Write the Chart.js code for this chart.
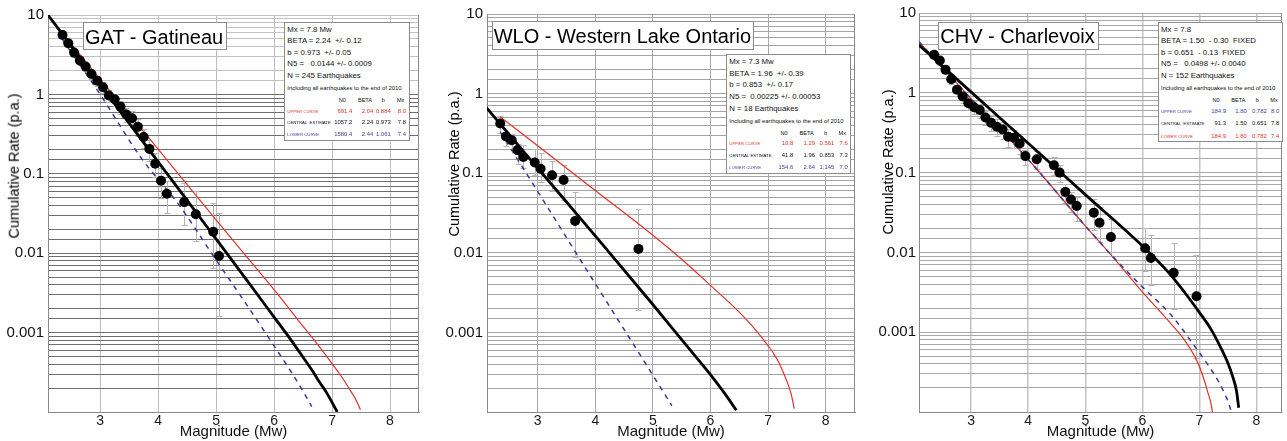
<!DOCTYPE html>
<html>
<head>
<meta charset="utf-8">
<script src="https://cdn.jsdelivr.net/npm/chart.js@4.4.1/dist/chart.umd.min.js"></script>
<style>
  html, body { margin:0; padding:0; background:#fff; }
  body { width:1287px; height:441px; overflow:hidden; position:relative;
         font-family:"Liberation Sans", Arial, Helvetica, sans-serif; color:#111; }
  .panel { position:absolute; top:0; height:441px; }
  .panel canvas { position:absolute; left:0; top:0; }
  .ov { position:absolute; white-space:pre; line-height:1; z-index:3; }
  .box { position:absolute; border:1px solid #8c8c8c; background:#fff; box-sizing:border-box; z-index:2; }
</style>
</head>
<body>
<script>
// ---------------- DATA ----------------
const yTickValues = [10, 1, 0.1, 0.01, 0.001];
const yTickLabels = ['10', '1', '0.1', '0.01', '0.001'];
const xTitle = 'Magnitude (Mw)';
const yTitle = 'Cumulative Rate (p.a.)';

// GAT - Gatineau
const gatMag  = [2.35,2.45,2.55,2.65,2.75,2.85,2.95,3.05,3.15,3.25,3.35,3.45,3.55,3.65,3.75,3.85,3.95,4.05,4.15,4.45,4.65,4.95,5.05];
const gatRate = [5.6,4.4,3.36,2.67,2.24,1.81,1.49,1.23,0.97,0.87,0.70,0.56,0.50,0.39,0.29,0.206,0.134,0.082,0.056,0.044,0.031,0.0186,0.0092];
const gatHi   = [6.0,4.8,3.7,3.0,2.5,2.05,1.7,1.42,1.13,1.02,0.83,0.67,0.61,0.49,0.37,0.27,0.185,0.12,0.08,0.077,0.060,0.043,0.032];
const gatLo   = [5.2,4.0,3.0,2.35,1.95,1.57,1.28,1.04,0.81,0.72,0.57,0.45,0.39,0.30,0.21,0.145,0.09,0.05,0.032,0.0228,0.0141,0.0066,0.0016];
const gatCentralMag  = [2.1, 3, 4, 5, 5.5, 6, 6.25, 6.5, 6.65, 6.8, 6.9, 7.0, 7.09];
const gatCentralRate = [10, 1.33, 0.1416, 0.0151, 0.0049, 0.00157, 0.00089, 0.00049, 0.00034, 0.000228, 0.000178, 0.000132, 0.0001];
const gatUpperMag  = [2.42, 3, 4, 5, 5.5, 6, 6.5, 6.75, 7.0, 7.15, 7.3, 7.4, 7.49];
const gatUpperRate = [5.1, 1.56, 0.204, 0.0263, 0.0095, 0.00348, 0.0012, 0.00071, 0.000407, 0.000288, 0.000195, 0.000148, 0.000107];
const gatLowerMag  = [2.35, 3, 3.69, 4.376, 5, 5.5, 6, 6.3, 6.5, 6.65];
const gatLowerRate = [4.9, 1.0, 0.165, 0.039, 0.0082, 0.0024, 0.00068, 0.000316, 0.000182, 0.000117];

// WLO - Western Lake Ontario
const wloMag  = [2.35,2.45,2.55,2.65,2.75,2.95,3.05,3.25,3.45,3.65,4.75];
const wloRate = [0.42,0.29,0.26,0.195,0.16,0.136,0.114,0.094,0.082,0.0251,0.0112];
const wloHi   = [0.53,0.33,0.315,0.236,0.225,0.204,0.177,0.141,0.126,0.058,0.036];
const wloLo   = [0.32,0.219,0.204,0.132,0.115,0.094,0.078,0.060,0.046,0.0089,0.0019];
const wloCentralMag  = [2.1, 3, 4, 5, 5.5, 6, 6.25, 6.45];
const wloCentralRate = [0.68, 0.116, 0.0163, 0.00224, 0.00081, 0.000295, 0.00017, 0.000105];
const wloUpperMag  = [2.35, 3, 4, 5, 5.5, 6, 6.5, 6.75, 7.0, 7.1, 7.2, 7.28, 7.34, 7.4, 7.455];
const wloUpperRate = [0.51, 0.221, 0.0607, 0.0166, 0.0083, 0.0039, 0.0018, 0.00115, 0.000684, 0.00054, 0.0004, 0.000295, 0.000229, 0.00017, 0.00011];
const wloLowerMag  = [2.35, 3, 4, 5, 5.33];
const wloLowerRate = [0.33, 0.059, 0.0041, 0.00029, 0.00012];

// CHV - Charlevoix
const chvMag  = [2.35,2.45,2.55,2.65,2.75,2.85,2.95,3.05,3.15,3.25,3.35,3.45,3.55,3.65,3.75,3.85,3.95,4.15,4.45,4.55,4.65,4.75,4.85,5.15,5.25,5.45,6.05,6.15,6.55,6.95];
const chvRate = [2.99,2.54,1.94,1.48,1.09,0.90,0.74,0.66,0.61,0.49,0.42,0.376,0.348,0.281,0.273,0.232,0.161,0.147,0.124,0.100,0.0573,0.0459,0.0382,0.0315,0.0236,0.0156,0.0113,0.0085,0.00554,0.00282];
const chvHi   = [3.3,2.85,2.2,1.7,1.27,1.06,0.88,0.79,0.73,0.6,0.52,0.465,0.43,0.35,0.34,0.29,0.191,0.185,0.155,0.124,0.073,0.057,0.0495,0.047,0.037,0.0264,0.0204,0.0166,0.0131,0.0093];
const chvLo   = [2.7,2.25,1.7,1.28,0.92,0.75,0.61,0.54,0.49,0.39,0.33,0.29,0.265,0.21,0.205,0.17,0.124,0.11,0.093,0.076,0.041,0.032,0.025,0.0189,0.0135,0.0091,0.0058,0.0039,0.00195,0.00048];
const chvCentralMag  = [2.08, 3, 4, 5, 6, 6.5, 6.75, 7, 7.2, 7.39, 7.5, 7.59, 7.65, 7.69];
const chvCentralRate = [4.0, 1.02, 0.233, 0.053, 0.0121, 0.0052, 0.0031, 0.00177, 0.0011, 0.00061, 0.00041, 0.00027, 0.000186, 0.000113];
const chvUpperMag  = [2.08, 3, 4, 5, 5.5, 6, 6.52, 6.93, 7.15, 7.33, 7.45, 7.52, 7.56];
const chvUpperRate = [4.4, 0.84, 0.146, 0.0215, 0.0086, 0.0037, 0.0016, 0.00065, 0.00039, 0.000245, 0.000166, 0.000126, 0.0001];
const chvLowerMag  = [2.08, 3, 4, 5, 5.5, 6, 6.5, 6.75, 6.93, 7.05, 7.16, 7.2, 7.23];
const chvLowerRate = [4.4, 0.84, 0.146, 0.0215, 0.0085, 0.0032, 0.00128, 0.00078, 0.00048, 0.0003, 0.000166, 0.000132, 0.0001];

// ---------------- RENDERING ----------------
const FONT = '"Liberation Sans", Arial, Helvetica, sans-serif';
Chart.defaults.font.family = FONT;
const RED = '#e0322a', BLUE = '#3a3a99', RED_T = '#d8352a', BLUE_T = '#3d3d9e';

function pts(xs, ys) { return xs.map((x, i) => ({ x: x, y: ys[i] })); }

function makePanel(p) {
  const div = document.createElement('div');
  div.className = 'panel';
  div.style.left = p.left + 'px';
  div.style.width = p.width + 'px';
  document.body.appendChild(div);
  const cv = document.createElement('canvas');
  cv.width = p.width; cv.height = 441;
  cv.style.width = p.width + 'px'; cv.style.height = '441px';
  div.appendChild(cv);

  const errPlugin = {
    id: 'errbars',
    beforeDatasetsDraw(chart) {
      const { ctx, chartArea: a, scales: { x, y } } = chart;
      ctx.save();
      ctx.strokeStyle = p.frame; ctx.lineWidth = 1;
      ctx.beginPath(); ctx.moveTo(a.right - 0.5, a.top); ctx.lineTo(a.right - 0.5, a.bottom); ctx.stroke();
      ctx.strokeStyle = '#b4b4b4'; ctx.lineWidth = 1;
      p.mag.forEach((m, i) => {
        const px = Math.round(x.getPixelForValue(m)) + 0.5;
        const y1 = Math.round(y.getPixelForValue(p.hi[i])) + 0.5;
        const y2 = Math.round(y.getPixelForValue(p.lo[i])) + 0.5;
        ctx.beginPath();
        ctx.moveTo(px, y1); ctx.lineTo(px, y2);
        ctx.moveTo(px - 3, y1); ctx.lineTo(px + 3, y1);
        ctx.moveTo(px - 3, y2); ctx.lineTo(px + 3, y2);
        ctx.stroke();
      });
      ctx.restore();
    }
  };

  const lineDs = (xs, ys, color, w, dash) => ({
    data: pts(xs, ys), showLine: true, borderColor: color, borderWidth: w,
    borderDash: dash || [], pointRadius: 0, cubicInterpolationMode: 'monotone', fill: false
  });

  new Chart(cv, {
    type: 'scatter',
    data: {
      datasets: [
        { data: pts(p.mag, p.rate), pointRadius: 5, pointBackgroundColor: '#000',
          pointBorderColor: '#000', pointBorderWidth: 0, showLine: false },
        lineDs(p.cMag, p.cRate, '#000', 2.8),
        lineDs(p.uMag, p.uRate, p.uColor, p.uDash ? 1.5 : 1.2, p.uDash ? [5, 5] : null),
        lineDs(p.lMag, p.lRate, p.lColor, p.lDash ? 1.5 : 1.2, p.lDash ? [5, 5] : null)
      ]
    },
    options: {
      responsive: false, animation: false, devicePixelRatio: 1,
      layout: { padding: { left: 0, top: p.area.top, right: p.width - p.area.right, bottom: 0 } },
      plugins: { legend: { display: false }, tooltip: { enabled: false } },
      scales: {
        x: {
          type: 'linear', min: p.xMin, max: p.xMax,
          afterFit(s) { s.height = 441 - p.area.bottom; },
          ticks: { stepSize: 1, includeBounds: false, maxRotation: 0, padding: 1,
                   font: { size: 14, family: FONT }, color: '#1a1a1a' },
          grid: { color: p.vGrid, lineWidth: p.vGridW || 1, drawTicks: false },
          border: { display: true, color: p.frame },
          title: { display: true, text: xTitle, padding: 0, color: '#111',
                   font: { size: 15, family: FONT } }
        },
        y: {
          type: 'logarithmic', min: 0.0001, max: 10,
          afterFit(s) { s.width = p.area.left; },
          ticks: {
            autoSkip: false, padding: p.yPad, color: '#111', font: { size: 15, family: FONT },
            callback(v) {
              for (let i = 0; i < yTickValues.length; i++) {
                if (Math.abs(v - yTickValues[i]) / yTickValues[i] < 1e-6) return yTickLabels[i];
              }
              return '';
            }
          },
          grid: { color: (c) => p.hGrid(c.tick ? c.tick.value : 1), drawTicks: false },
          border: { display: true, color: p.frame }
        }
      }
    },
    plugins: [errPlugin]
  });

  // rotated y-axis title
  const yt = document.createElement('div');
  yt.className = 'ov';
  yt.textContent = yTitle;
  yt.style.fontSize = '14.5px';
  yt.style.color = '#000';
  yt.style.left = p.yTitle[0] + 'px';
  yt.style.top = p.yTitle[1] + 'px';
  yt.style.transform = 'translate(-50%,-50%) rotate(-90deg)';
  document.body.appendChild(yt);
}

function box(x, y, w, h) {
  const b = document.createElement('div');
  b.className = 'box';
  Object.assign(b.style, { left: x + 'px', top: y + 'px', width: w + 'px', height: h + 'px' });
  document.body.appendChild(b);
}
function txt(s, x, y, size, align, color) {
  const t = document.createElement('div');
  t.className = 'ov';
  t.textContent = s;
  t.style.fontSize = size + 'px';
  t.style.left = x + 'px';
  t.style.top = y + 'px';
  t.style.color = color || '#111';
  const tx = align === 'right' ? '-100%' : (align === 'center' ? '-50%' : '0');
  t.style.transform = 'translate(' + tx + ',-50%)';
  document.body.appendChild(t);
}

function titleBox(s, x, y, w, h) {
  box(x, y, w, h);
  txt(s, x + 2, y + h / 2 + 0.5, 20, 'left', '#000');
}

function infoBox(c) {
  box(c.box[0], c.box[1], c.box[2], c.box[3]);
  c.lines.forEach((s, i) => txt(s, c.lx, c.ly[i], 7.8, 'left', '#111'));
  txt('Including all earthquakes to the end of 2010', c.lx, c.iy, 5.9, 'left', '#111');
  ['N0', 'BETA', 'b', 'Mx'].forEach((s, i) => txt(s, c.hx[i], c.hy, 5.6, 'center', '#111'));
  c.rows.forEach((r, j) => {
    txt(r.label, c.lx, c.ry[j], 4.3, 'left', r.color);
    r.vals.forEach((v, i) => txt(v, c.vx[i], c.ry[j], 5.9, 'right', r.color));
  });
}

// Panel 1
makePanel({
  left: 0, width: 430, area: { left: 48, top: 15, right: 419, bottom: 412 },
  xMin: 2.1, xMax: 8.5, yPad: 4, frame: '#8a8a8a',
  vGrid: '#bdbdbd', hGrid: (v) => (v > 1.0001 ? '#c2c2c2' : '#6e6e6e'),
  mag: gatMag, rate: gatRate, hi: gatHi, lo: gatLo,
  cMag: gatCentralMag, cRate: gatCentralRate,
  uMag: gatUpperMag, uRate: gatUpperRate, uColor: RED, uDash: false,
  lMag: gatLowerMag, lRate: gatLowerRate, lColor: BLUE, lDash: true,
  yTitle: [14, 165.7]
});
// Panel 2
makePanel({
  left: 430, width: 430, area: { left: 57, top: 14, right: 427, bottom: 412 },
  xMin: 2.12, xMax: 8.51, yPad: 4, frame: '#8a8a8a',
  vGrid: '#a8a8a8', hGrid: (v) => '#a4a4a4',
  mag: wloMag, rate: wloRate, hi: wloHi, lo: wloLo,
  cMag: wloCentralMag, cRate: wloCentralRate,
  uMag: wloUpperMag, uRate: wloUpperRate, uColor: RED, uDash: false,
  lMag: wloLowerMag, lRate: wloLowerRate, lColor: BLUE, lDash: true,
  yTitle: [454, 163.5]
});
// Panel 3
makePanel({
  left: 860, width: 427, area: { left: 59, top: 13, right: 427, bottom: 412 },
  xMin: 2.085, xMax: 8.449, yPad: 3, frame: '#8a8a8a',
  vGrid: '#c4c4c4', vGridW: 1.5, hGrid: (v) => '#a8a8a8',
  mag: chvMag, rate: chvRate, hi: chvHi, lo: chvLo,
  cMag: chvCentralMag, cRate: chvCentralRate,
  uMag: chvUpperMag, uRate: chvUpperRate, uColor: BLUE, uDash: true,
  lMag: chvLowerMag, lRate: chvLowerRate, lColor: RED, lDash: false,
  yTitle: [888.4, 161.7]
});

// Title boxes
titleBox('GAT - Gatineau', 83, 22, 144, 28);
titleBox('WLO - Western Lake Ontario', 491.7, 20.7, 262.3, 29.3);
titleBox('CHV - Charlevoix', 938.3, 21.7, 161, 28.3);

// Info boxes
infoBox({
  box: [284, 22, 126, 119], lx: 287.3, ly: [30, 41, 52.7, 64.3, 76], iy: 89,
  hx: [342.3, 365, 383.3, 400.7], hy: 100.7, vx: [352.3, 373.3, 390.7, 406], ry: [111.7, 123.3, 135],
  lines: ['Mx = 7.8 Mw', 'BETA = 2.24  +/- 0.12', 'b = 0.973  +/- 0.05', 'N5 =   0.0144 +/- 0.0009', 'N = 245 Earthquakes'],
  rows: [
    { label: 'UPPER CURVE', vals: ['691.4', '2.04', '0.884', '8.0'], color: RED_T },
    { label: 'CENTRAL  ESTIMATE', vals: ['1057.2', '2.24', '0.973', '7.8'], color: '#111' },
    { label: 'LOWER CURVE', vals: ['1580.4', '2.44', '1.061', '7.4'], color: BLUE_T }
  ]
});
infoBox({
  box: [726, 54, 125, 120], lx: 729.3, ly: [62.3, 73.7, 85.3, 97.3, 108.7], iy: 122,
  hx: [784, 806.7, 825.7, 842.3], hy: 133.7, vx: [793.3, 815, 834.3, 847.7], ry: [144, 156, 168.3],
  lines: ['Mx = 7.3 Mw', 'BETA = 1.96  +/- 0.39', 'b = 0.853  +/- 0.17', 'N5 =  0.00225 +/- 0.00053', 'N = 18 Earthquakes'],
  rows: [
    { label: 'UPPER CURVE', vals: ['10.8', '1.29', '0.561', '7.6'], color: RED_T },
    { label: 'CENTRAL ESTIMATE', vals: ['41.8', '1.96', '0.853', '7.3'], color: '#111' },
    { label: 'LOWER CURVE', vals: ['154.6', '2.64', '1.145', '7.0'], color: BLUE_T }
  ]
});
infoBox({
  box: [1157.7, 21.7, 125, 120], lx: 1161, ly: [30, 41, 52.7, 64.3, 76], iy: 89.3,
  hx: [1216, 1238.3, 1257.3, 1274], hy: 100.7, vx: [1226, 1246.7, 1266.7, 1279.3], ry: [111.7, 124.3, 137.3],
  lines: ['Mx = 7.8', 'BETA = 1.50  - 0.30  FIXED', 'b = 0.651  - 0.13  FIXED', 'N5 =   0.0498 +/- 0.0040', 'N = 152 Earthquakes'],
  rows: [
    { label: 'UPPER CURVE', vals: ['184.9', '1.80', '0.782', '8.0'], color: BLUE_T },
    { label: 'CENTRAL  ESTIMATE', vals: ['91.3', '1.50', '0.651', '7.8'], color: '#111' },
    { label: 'LOWER CURVE', vals: ['184.9', '1.80', '0.782', '7.4'], color: RED_T }
  ]
});
</script>
</body>
</html>
